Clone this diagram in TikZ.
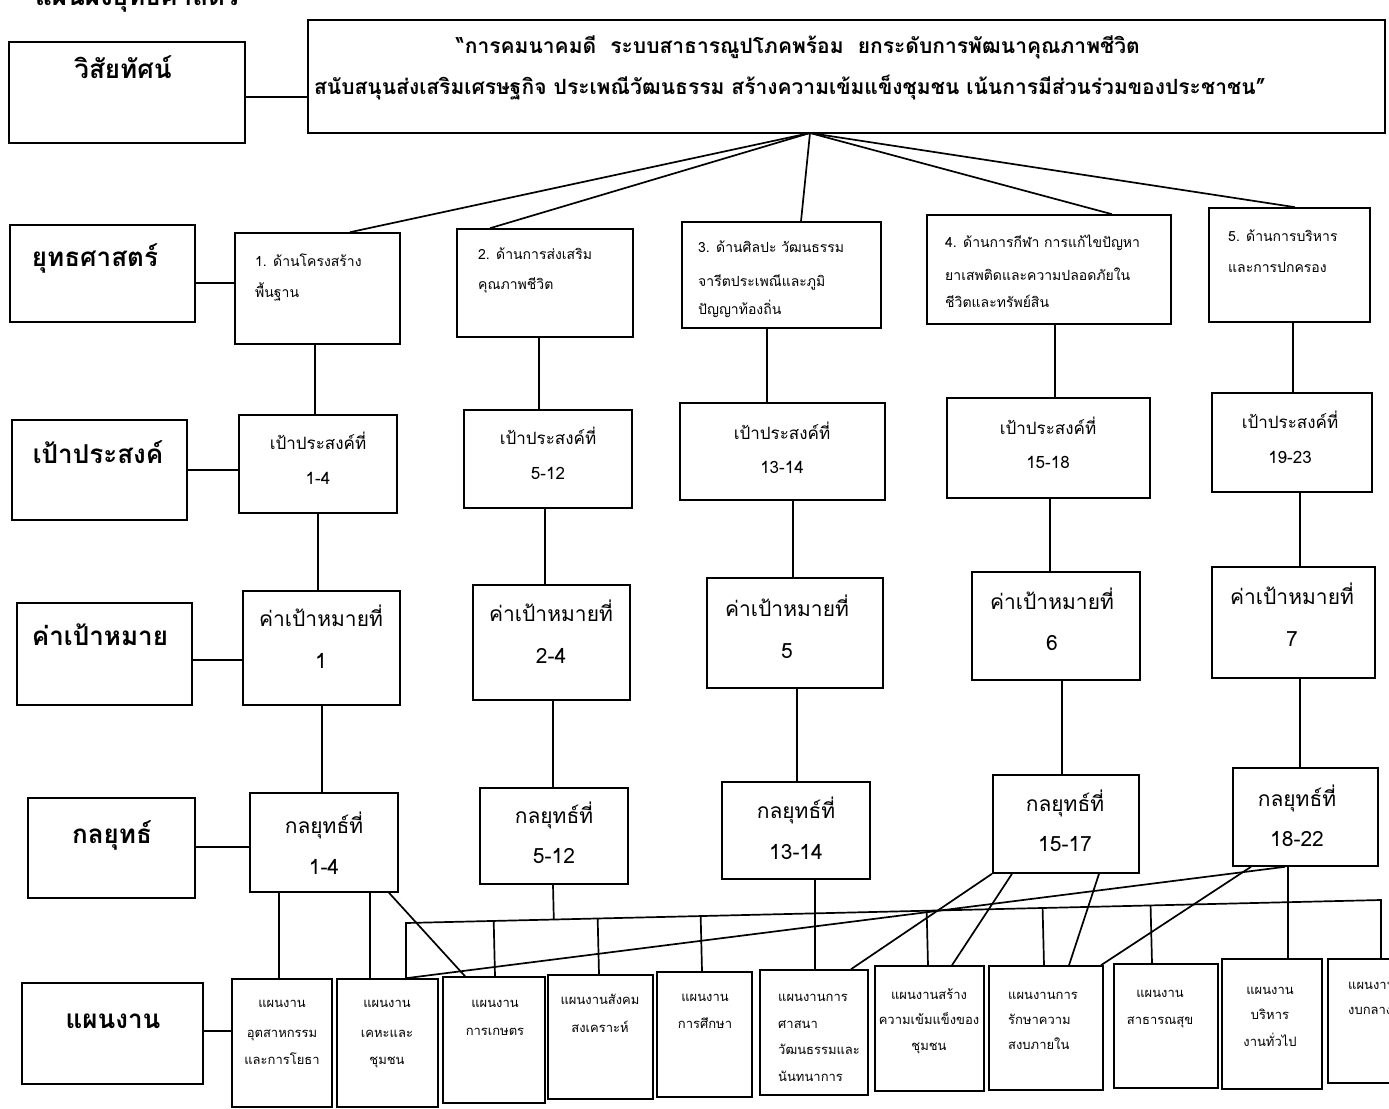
\documentclass[tikz,border=0pt]{standalone}
\usepackage{fontspec}
\setmainfont[Script=Thai]{Loma}
\usetikzlibrary{calc}
\tikzset{
 bxs/.style={draw, line width=1.6pt, inner sep=0pt},
 lbs/.style={draw, line width=2.2pt, inner sep=0pt},
 ln/.style={line width=1.7pt},
 tl/.style={inner sep=0pt, anchor=base},
 tlw/.style={inner sep=0pt, anchor=base west},
 fL/.style={font=\fontsize{26}{30}\selectfont\bfseries},
 fV/.style={font=\fontsize{21}{25}\selectfont\bfseries},
 fS/.style={font=\fontsize{14}{17}\selectfont},
 fG/.style={font=\fontsize{17}{20}\selectfont},
 fT/.style={font=\fontsize{21}{25}\selectfont},
 fP/.style={font=\fontsize{13}{15}\selectfont},
}
\newcommand\bx[6][bxs]{\node[#1, minimum width=#5-#3, minimum height=#6-#4] (#2) at ({(#3+#5)/2},{(#4+#6)/2}) {};}
\newcommand\tx[5][tl]{\node[#1] (#2) at (#3,#4) {#5};}
\begin{document}
\begin{tikzpicture}[x=1pt,y=-1pt]
\clip (0,0) rectangle (1389,1108);
\fill[white] (0,0) rectangle (1389,1108);
% title (cut off at top)
\tx[tlw,fL]{title}{35}{6}{แผนผังยุทธศาสตร์}
% row labels
\bx[lbs]{Lvis}{9}{42}{245}{143}
\bx[lbs]{Lstr}{10}{225}{195}{322}
\bx[lbs]{Lgoal}{12}{420}{187}{520}
\bx[lbs]{Ltar}{17}{603}{192}{705}
\bx[lbs]{Ltac}{28}{798}{195}{898}
\bx[lbs]{Lplan}{22}{983}{203}{1084}
\tx[tl,fL]{tLvis}{123}{78}{วิสัยทัศน์}
\tx[tl,fL]{tLstr}{95}{266}{ยุทธศาสตร์}
\tx[tl,fL]{tLgoal}{98}{463}{เป้าประสงค์}
\tx[tl,fL]{tLtar}{100}{645}{ค่าเป้าหมาย}
\tx[tl,fL]{tLtac}{112}{843}{กลยุทธ์}
\tx[tl,fL]{tLplan}{113}{1028}{แผนงาน}
% vision
\bx[lbs]{V}{308}{20}{1385}{133}
\tx[tl,fV]{V1}{798}{54}{“การคมนาคมดี\ \ ระบบสาธารณูปโภคพร้อม\ \ ยกระดับการพัฒนาคุณภาพชีวิต}
\tx[tl,fV]{V2}{790}{94}{สนับสนุนส่งเสริมเศรษฐกิจ ประเพณีวัฒนธรรม สร้างความเข้มแข็งชุมชน เน้นการมีส่วนร่วมของประชาชน”}
% strategies
\bx{S1}{235}{233}{400}{344}
\bx{S2}{457}{229}{633}{337}
\bx{S3}{682}{222}{881}{328}
\bx{S4}{927}{215}{1171}{324}
\bx{S5}{1209}{208}{1370}{322}
\tx[tlw,fS]{S1a}{255}{266}{1. ด้านโครงสร้าง}
\tx[tlw,fS]{S1b}{255}{297}{พื้นฐาน}
\tx[tlw,fS]{S2a}{478}{259}{2. ด้านการส่งเสริม}
\tx[tlw,fS]{S2b}{478}{289}{คุณภาพชีวิต}
\tx[tlw,fS]{S3a}{698}{252}{3. ด้านศิลปะ วัฒนธรรม}
\tx[tlw,fS]{S3b}{698}{286}{จารีตประเพณีและภูมิ}
\tx[tlw,fS]{S3c}{698}{314}{ปัญญาท้องถิ่น}
\tx[tlw,fS]{S4a}{945}{247}{4. ด้านการกีฬา การแก้ไขปัญหา}
\tx[tlw,fS]{S4b}{945}{280}{ยาเสพติดและความปลอดภัยใน}
\tx[tlw,fS]{S4c}{945}{307}{ชีวิตและทรัพย์สิน}
\tx[tlw,fS]{S5a}{1228}{241}{5. ด้านการบริหาร}
\tx[tlw,fS]{S5b}{1228}{272}{และการปกครอง}
% goals
\bx{G1}{239}{415}{397}{513}
\bx{G2}{464}{410}{632}{508}
\bx{G3}{680}{403}{885}{500}
\bx{G4}{947}{398}{1150}{498}
\bx{G5}{1212}{393}{1372}{492}
\tx[tl,fG]{G1a}{318}{449}{เป้าประสงค์ที่}\tx[tl,fG]{G1b}{318}{484}{1-4}
\tx[tl,fG]{G2a}{548}{444}{เป้าประสงค์ที่}\tx[tl,fG]{G2b}{548}{479}{5-12}
\tx[tl,fG]{G3a}{782}{439}{เป้าประสงค์ที่}\tx[tl,fG]{G3b}{782}{473}{13-14}
\tx[tl,fG]{G4a}{1048}{434}{เป้าประสงค์ที่}\tx[tl,fG]{G4b}{1048}{468}{15-18}
\tx[tl,fG]{G5a}{1290}{428}{เป้าประสงค์ที่}\tx[tl,fG]{G5b}{1290}{463}{19-23}
% targets
\bx{T1}{243}{591}{400}{705}
\bx{T2}{473}{585}{630}{700}
\bx{T3}{707}{578}{883}{688}
\bx{T4}{972}{572}{1140}{680}
\bx{T5}{1212}{567}{1375}{678}
\tx[tl,fT]{T1a}{321}{626}{ค่าเป้าหมายที่}\tx[tl,fT]{T1b}{321}{668}{1}
\tx[tl,fT]{T2a}{551}{621}{ค่าเป้าหมายที่}\tx[tl,fT]{T2b}{551}{663}{2-4}
\tx[tl,fT]{T3a}{787}{616}{ค่าเป้าหมายที่}\tx[tl,fT]{T3b}{787}{658}{5}
\tx[tl,fT]{T4a}{1052}{609}{ค่าเป้าหมายที่}\tx[tl,fT]{T4b}{1052}{650}{6}
\tx[tl,fT]{T5a}{1292}{604}{ค่าเป้าหมายที่}\tx[tl,fT]{T5b}{1292}{646}{7}
% tactics
\bx{Ta1}{250}{793}{398}{892}
\bx{Ta2}{480}{788}{628}{884}
\bx{Ta3}{722}{782}{870}{879}
\bx{Ta4}{993}{775}{1139}{873}
\bx{Ta5}{1233}{768}{1378}{866}
\tx[tl,fT]{Ta1a}{324}{833}{กลยุทธ์ที่}\tx[tl,fT]{Ta1b}{324}{874}{1-4}
\tx[tl,fT]{Ta2a}{554}{823}{กลยุทธ์ที่}\tx[tl,fT]{Ta2b}{554}{863}{5-12}
\tx[tl,fT]{Ta3a}{796}{818}{กลยุทธ์ที่}\tx[tl,fT]{Ta3b}{796}{859}{13-14}
\tx[tl,fT]{Ta4a}{1065}{811}{กลยุทธ์ที่}\tx[tl,fT]{Ta4b}{1065}{851}{15-17}
\tx[tl,fT]{Ta5a}{1297}{806}{กลยุทธ์ที่}\tx[tl,fT]{Ta5b}{1297}{846}{18-22}
% plans
\bx{P1}{232}{979}{332}{1107}
\bx{P2}{337}{979}{438}{1107}
\bx{P3}{443}{977}{545}{1103}
\bx{P4}{548}{975}{653}{1099}
\bx{P5}{657}{972}{752}{1097}
\bx{P6}{760}{970}{868}{1095}
\bx{P7}{875}{966}{984}{1091}
\bx{P8}{989}{966}{1103}{1090}
\bx{P9}{1114}{964}{1218}{1088}
\bx{P10}{1222}{959}{1322}{1089}
\bx{P11}{1328}{959}{1434}{1083}
\tx[tl,fP]{P1a}{282}{1007}{แผนงาน}\tx[tl,fP]{P1b}{282}{1037}{อุตสาหกรรม}\tx[tl,fP]{P1c}{282}{1064}{และการโยธา}
\tx[tl,fP]{P2a}{387}{1007}{แผนงาน}\tx[tl,fP]{P2b}{387}{1037}{เคหะและ}\tx[tl,fP]{P2c}{387}{1064}{ชุมชน}
\tx[tl,fP]{P3a}{495}{1007}{แผนงาน}\tx[tl,fP]{P3b}{495}{1035}{การเกษตร}
\tx[tl,fP]{P4a}{600}{1004}{แผนงานสังคม}\tx[tl,fP]{P4b}{600}{1032}{สงเคราะห์}
\tx[tl,fP]{P5a}{705}{1001}{แผนงาน}\tx[tl,fP]{P5b}{705}{1028}{การศึกษา}
\tx[tlw,fP]{P6a}{778}{1001}{แผนงานการ}\tx[tlw,fP]{P6b}{778}{1028}{ศาสนา}\tx[tlw,fP]{P6c}{778}{1054}{วัฒนธรรมและ}\tx[tlw,fP]{P6d}{778}{1081}{นันทนาการ}
\tx[tl,fP]{P7a}{929}{999}{แผนงานสร้าง}\tx[tl,fP]{P7b}{929}{1024}{ความเข้มแข็งของ}\tx[tl,fP]{P7c}{929}{1050}{ชุมชน}
\tx[tlw,fP]{P8a}{1008}{999}{แผนงานการ}\tx[tlw,fP]{P8b}{1008}{1024}{รักษาความ}\tx[tlw,fP]{P8c}{1008}{1049}{สงบภายใน}
\tx[tl,fP]{P9a}{1160}{997}{แผนงาน}\tx[tl,fP]{P9b}{1160}{1024}{สาธารณสุข}
\tx[tl,fP]{P10a}{1270}{994}{แผนงาน}\tx[tl,fP]{P10b}{1270}{1019}{บริหาร}\tx[tl,fP]{P10c}{1270}{1046}{งานทั่วไป}
\tx[tlw,fP]{P11a}{1348}{989}{แผนงาน}\tx[tlw,fP]{P11b}{1348}{1014}{งบกลาง}
% helper coordinates
\coordinate (r1) at (0,97);\coordinate (r2) at (0,283);\coordinate (r3) at (0,470);
\coordinate (r4) at (0,660);\coordinate (r5) at (0,847);\coordinate (r6) at (0,1031);
\coordinate (hub) at (810,133);
\foreach \n/\x in {a1/350,a2/490,a3/801,a4/1112,a5/1295,
  u1/315,u2/539,u3/767,u4/1055,u5/1293,
  w1/318,w2/545,w3/793,w4/1050,w5/1300,
  z1/322,z2/553,z3/797,z4/1062,z5/1300,
  q1/279,q2/370,q3a/389,q3b/465,q6/815,
  k1/992,k1b/851,k2/1012,k2b/952,k3/1099,k3b/1069,
  m1/1285,m1b/406,m2/1251,m2b/1101,m3/1288,
  d3/495,d4/599,d5/702,d7/928,d8/1044,d9/1152}
  {\coordinate (\n) at (\x,0);}
\coordinate (busL) at (406,923);
\coordinate (busR) at (1381,900);
% row connectors
\draw[ln] (Lvis.east |- r1) -- (V.west |- r1);
\draw[ln] (Lstr.east |- r2) -- (S1.west |- r2);
\draw[ln] (Lgoal.east |- r3) -- (G1.west |- r3);
\draw[ln] (Ltar.east |- r4) -- (T1.west |- r4);
\draw[ln] (Ltac.east |- r5) -- (Ta1.west |- r5);
\draw[ln] (Lplan.east |- r6) -- (P1.west |- r6);
% vision to strategies
\foreach \s/\a in {S1/a1,S2/a2,S3/a3,S4/a4,S5/a5}
  \draw[ln] (hub) -- (\s.north -| \a);
% verticals
\foreach \p/\c/\x in {S1/G1/u1,S2/G2/u2,S3/G3/u3,S4/G4/u4,S5/G5/u5,
  G1/T1/w1,G2/T2/w2,G3/T3/w3,G4/T4/w4,G5/T5/w5,
  T1/Ta1/z1,T2/Ta2/z2,T3/Ta3/z3,T4/Ta4/z4,T5/Ta5/z5}
  \draw[ln] (\p.south -| \x) -- (\c.north -| \x);
% tactics to plans
\draw[ln] (Ta1.south -| q1) -- (P1.north -| q1);
\draw[ln] (Ta1.south -| q2) -- (P2.north -| q2);
\draw[ln] (Ta1.south -| q3a) -- (P3.north -| q3b);
\draw[ln] (Ta3.south -| q6) -- (P6.north -| q6);
\draw[ln] (Ta4.south -| k1) -- (P6.north -| k1b);
\draw[ln] (Ta4.south -| k2) -- (P7.north -| k2b);
\draw[ln] (Ta4.south -| k3) -- (P8.north -| k3b);
\draw[ln] (Ta5.south -| m1) -- (P2.north -| m1b);
\draw[ln] (Ta5.south -| m2) -- (P8.north -| m2b);
\draw[ln] (Ta5.south -| m3) -- (P10.north -| m3);
% bus
\draw[ln] (P2.north -| busL) -- (busL) -- (busR) -- (P11.north -| busR);
\draw[ln] (Ta2.south -| z2) -- ($(busL)!(Ta2.south -| z2)!(busR)$);
\foreach \pl/\d in {P3/d3,P4/d4,P5/d5,P7/d7,P8/d8,P9/d9}
  \draw[ln] ($(busL)!(\pl.north -| \d)!(busR)$) -- (\pl.north -| \d);
\end{tikzpicture}
\end{document}
